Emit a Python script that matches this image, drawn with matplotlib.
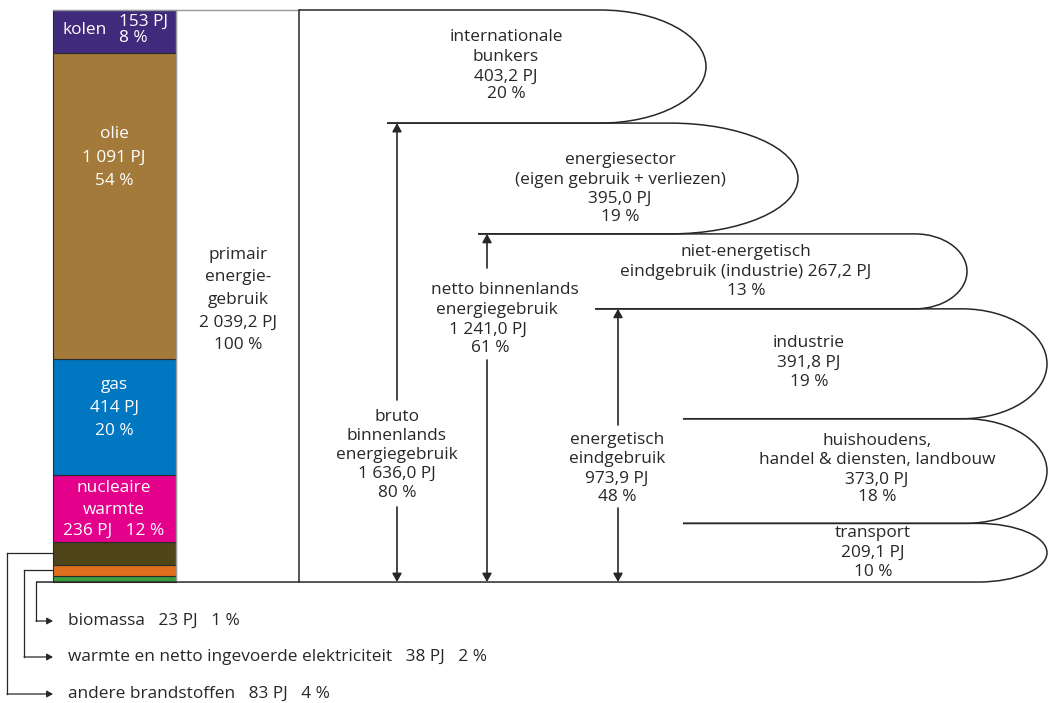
import matplotlib
matplotlib.use('Agg')
import matplotlib.pyplot as plt
from matplotlib.path import Path
from matplotlib.patches import PathPatch, Rectangle, FancyArrowPatch

# ---------------- data ----------------
source_names = ['biomassa', 'warmte en netto ingevoerde elektriciteit', 'andere brandstoffen',
                'nucleaire warmte', 'gas', 'olie', 'kolen']
source_pj = [23, 38, 83, 236, 414, 1091, 153]
source_pct = [1, 2, 4, 12, 20, 54, 8]
source_colors = ['#3a9e3f', '#e06f1f', '#4e4519', '#e4008b', '#0077c0', '#a47a3b', '#402a7b']

primary_total = 2039.2
primary_pct = 100

use_labels = ['internationale\nbunkers',
              'energiesector\n(eigen gebruik + verliezen)',
              'niet-energetisch\neindgebruik (industrie) {pj}',
              'industrie',
              'huishoudens,\nhandel & diensten, landbouw',
              'transport']
use_pj = [403.2, 395.0, 267.2, 391.8, 373.0, 209.1]
use_pct = [20, 19, 13, 19, 18, 10]

agg_labels = ['bruto\nbinnenlands\nenergiegebruik', 'netto binnenlands\nenergiegebruik',
              'energetisch\neindgebruik']
agg_pj = [1636.0, 1241.0, 973.9]
agg_pct = [80, 61, 48]

# ---------------- layout helpers ----------------
W, H = 1048, 703
K = primary_total / 572.0          # PJ per pixel of the column
BASE_PX = 582


def py(p):
    """pixel row -> PJ value on the y axis"""
    return (BASE_PX - p) * K


def fmt(v, dec=1):
    s = f"{v:,.{dec}f}".replace(',', ' ').replace('.', ',')
    return s


plt.rcParams['font.family'] = ['Open Sans', 'DejaVu Sans']
FS = 12.4
DARK = '#2a2627'

fig = plt.figure(figsize=(W / 100, H / 100), dpi=100)
ax = fig.add_axes([0, 0, 1, 1])
ax.set_xlim(0, W)
ax.set_ylim(py(H), py(0))
ax.axis('off')

# ---------------- stacked source column ----------------
bx0, bx1 = 53, 176
bottom = 0
seg_bounds = []
for v, c in zip(source_pj, source_colors):
    ax.bar((bx0 + bx1) / 2, v, width=bx1 - bx0, bottom=bottom, color=c,
           edgecolor='#2b2b2b', linewidth=0.8, zorder=2)
    seg_bounds.append((bottom, bottom + v))
    bottom += v

# primair box
ax.plot([bx0, 299], [primary_total, primary_total], color='#9a9a9a', lw=1.0, zorder=3)
ax.plot([bx1, bx1], [0, primary_total], color='#9a9a9a', lw=1.0, zorder=3)
ax.plot([299, 299], [0, primary_total], color=DARK, lw=1.1, zorder=3)

# labels inside column
W_ = 'white'
ax.text(85, py(30), 'kolen', color=W_, fontsize=FS, ha='center', va='center')
ax.text(119, py(22), f'{source_pj[6]} PJ', color=W_, fontsize=FS, ha='left', va='center')
ax.text(119, py(38), f'{source_pct[6]} %', color=W_, fontsize=FS, ha='left', va='center')
for txt, yy in zip(['olie', f'{source_pj[5]:,} PJ'.replace(',', ' '), f'{source_pct[5]} %'], [134, 158, 181]):
    ax.text(114, py(yy), txt, color=W_, fontsize=FS, ha='center', va='center')
for txt, yy in zip(['gas', f'{source_pj[4]} PJ', f'{source_pct[4]} %'], [385, 408, 431]):
    ax.text(114, py(yy), txt, color=W_, fontsize=FS, ha='center', va='center')
for txt, yy in zip(['nucleaire', 'warmte', f'{source_pj[3]} PJ   {source_pct[3]} %'], [488, 510, 531]):
    ax.text(114, py(yy), txt, color=W_, fontsize=FS, ha='center', va='center')

# primair text
for txt, yy in zip(['primair', 'energie-', 'gebruik', fmt(primary_total) + ' PJ', f'{primary_pct} %'],
                   [255, 277, 300, 323, 345]):
    ax.text(238, py(yy), txt, color=DARK, fontsize=FS, ha='center', va='center')

# ---------------- small source connectors ----------------
conn_x = [36, 24, 7]
conn_row = [621, 657, 694]
for i in range(3):
    lo, hi = seg_bounds[i]
    if i == 0:
        ystart = 0
    else:
        ystart = (lo + hi) / 2
        ax.plot([bx0, conn_x[i]], [ystart, ystart], color=DARK, lw=0.9, zorder=3)
    ax.plot([conn_x[i], conn_x[i]], [ystart, py(conn_row[i])], color=DARK, lw=0.9, zorder=3)
    ax.add_patch(FancyArrowPatch((conn_x[i], py(conn_row[i])), (53, py(conn_row[i])),
                                 arrowstyle='-|>,head_length=0.45,head_width=0.25',
                                 mutation_scale=8, color=DARK, lw=0.9, shrinkA=0, shrinkB=0))
    lbl = f'{source_names[i]}   {source_pj[i]} PJ   {source_pct[i]} %'
    ax.text(68, py(conn_row[i]), lbl, color=DARK, fontsize=FS, ha='left', va='center')

# ---------------- flow loops ----------------
tops = []
t = primary_total
for v in use_pj:
    tops.append((t, t - v))
    t -= v

top_left = [299, 387, 478, 595, 683, 683]
bot_left = [387, 478, 595, 683, 683, 36]
curve_start = [600, 670, 915, 962, 965, 978]
curve_right = [706, 798, 967, 1047, 1047, 1047]
kk = 0.5523
for i, (ytop, ybot) in enumerate(tops):
    xs, xr = curve_start[i], curve_right[i]
    ym = (ytop + ybot) / 2
    h2 = (ytop - ybot) / 2
    a = xr - xs
    verts = [(top_left[i], ytop), (xs, ytop),
             (xs + kk * a, ytop), (xr, ym + kk * h2), (xr, ym),
             (xr, ym - kk * h2), (xs + kk * a, ybot), (xs, ybot),
             (bot_left[i], ybot)]
    codes = [Path.MOVETO, Path.LINETO,
             Path.CURVE4, Path.CURVE4, Path.CURVE4,
             Path.CURVE4, Path.CURVE4, Path.CURVE4,
             Path.LINETO]
    ax.add_patch(PathPatch(Path(verts, codes), fill=False, edgecolor=DARK, lw=1.1, zorder=3))

# loop texts
use_text_pos = [(506, [37, 57, 77, 94]),
                (620, [160, 180, 199, 217]),
                (746, [252, 272, 291]),
                (809, [343, 363, 382]),
                (877, [441, 460, 480, 497]),
                (873, [533, 553, 572])]
for i, (cx, ys) in enumerate(use_text_pos):
    if '{pj}' in use_labels[i]:
        lines = use_labels[i].format(pj=fmt(use_pj[i]) + ' PJ').split('\n') + [f'{use_pct[i]} %']
    else:
        lines = use_labels[i].split('\n') + [fmt(use_pj[i]) + ' PJ', f'{use_pct[i]} %']
    for txt, yy in zip(lines, ys):
        ax.text(cx, py(yy), txt, color=DARK, fontsize=FS, ha='center', va='center')

# ---------------- aggregate arrows ----------------
agg_x = [397, 487, 618]
agg_gap = [(400, 507), (268, 360), (425, 508)]
agg_text = [([397] * 5, [417, 436, 455, 474, 493]),
            ([505, 497, 488, 490], [290, 310, 330, 348]),
            ([617] * 4, [440, 459, 479, 497])]
astyle = '-|>,head_length=0.45,head_width=0.25'
for i in range(3):
    x = agg_x[i]
    g0, g1 = agg_gap[i]
    ax.add_patch(FancyArrowPatch((x, py(g0)), (x, agg_pj[i]), arrowstyle=astyle,
                                 mutation_scale=11, color=DARK, lw=1.2, shrinkA=0, shrinkB=0, zorder=4))
    ax.add_patch(FancyArrowPatch((x, py(g1)), (x, 0), arrowstyle=astyle,
                                 mutation_scale=11, color=DARK, lw=1.2, shrinkA=0, shrinkB=0, zorder=4))
    lines = agg_labels[i].split('\n') + [fmt(agg_pj[i]) + ' PJ', f'{agg_pct[i]} %']
    xs_, ys_ = agg_text[i]
    for txt, xx, yy in zip(lines, xs_, ys_):
        ax.text(xx, py(yy), txt, color=DARK, fontsize=FS, ha='center', va='center')

fig.savefig('out.png', dpi=100)
